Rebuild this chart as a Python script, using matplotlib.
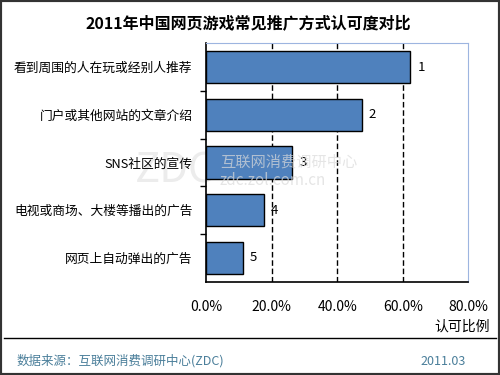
import matplotlib
matplotlib.use('Agg')
import matplotlib.pyplot as plt
from matplotlib.patches import Rectangle

plt.rcParams['font.family'] = ['Noto Sans CJK SC', 'DejaVu Sans']

title = "2011年中国网页游戏常见推广方式认可度对比"
categories = ["看到周围的人在玩或经别人推荐", "门户或其他网站的文章介绍", "SNS社区的宣传",
              "电视或商场、大楼等播出的广告", "网页上自动弹出的广告"]
values = [62.3, 47.4, 26.1, 17.5, 11.1]
ranks = ["1", "2", "3", "4", "5"]
xticks = [0, 20, 40, 60, 80]
xtick_labels = ["0.0%", "20.0%", "40.0%", "60.0%", "80.0%"]

fig = plt.figure(figsize=(5, 3.75), dpi=100)
ax = fig.add_axes([0.4126, 0.2488, 0.524, 0.6357])
ax.set_facecolor('none')

ypos = list(range(len(categories)))
ax.barh(ypos, values, height=0.68, color='#4F81BD', edgecolor='black', linewidth=1, zorder=3)
for y, v, r in zip(ypos, values, ranks):
    ax.text(v + 3.4, y, r, va='center', ha='center', fontsize=9.5, zorder=4)

ax.set_xlim(0, 80)
ax.set_ylim(4.5, -0.5)
ax.set_xticks(xticks)
ax.set_xticklabels(xtick_labels, fontsize=10)
ax.tick_params(axis='x', length=0, pad=13)
ax.set_yticks(ypos)
ax.set_yticklabels(categories, fontsize=9.2)
ax.tick_params(axis='y', which='major', length=0, pad=10)
ax.set_yticks([0.5, 1.5, 2.5, 3.5], minor=True)
ax.tick_params(axis='y', which='minor', length=4, width=1, direction='out')
for x in xticks[1:-1]:
    ax.axvline(x, color='black', linestyle=(0, (4, 2)), linewidth=1, zorder=2)

ax.spines['top'].set_color('#9DB5E0')
ax.spines['right'].set_color('#9DB5E0')
ax.spines['left'].set_linewidth(1.2)
ax.spines['bottom'].set_linewidth(1.2)

fig.text(0.98, 0.13, "认可比例", ha='right', va='center', fontsize=10)
fig.text(0.496, 0.938, title, ha='center', va='center', fontsize=11.5, fontweight='bold')

# watermark
fig.text(0.27, 0.545, "ZDC", fontsize=30, color='#ececec', va='center', zorder=-1)
fig.text(0.44, 0.568, "互联网消费调研中心", fontsize=11, color='#dadada', va='center', zorder=5, alpha=0.7)
fig.text(0.44, 0.518, "zdc.zol.com.cn", fontsize=11, color='#dadada', va='center', zorder=5, alpha=0.7)

# separator and footer
fig.add_artist(plt.Line2D([0.008, 0.992], [0.099, 0.099], color='black', linewidth=1))
fig.text(0.034, 0.037, "数据来源：互联网消费调研中心(ZDC)", ha='left', va='center', fontsize=9, color='#4A7E9A')
fig.text(0.932, 0.037, "2011.03", ha='right', va='center', fontsize=9, color='#4A7E9A')

fig.add_artist(Rectangle((0, 0), 1, 1, transform=fig.transFigure, fill=False,
                         edgecolor='#333333', linewidth=3))

fig.savefig('out.png', dpi=100)
